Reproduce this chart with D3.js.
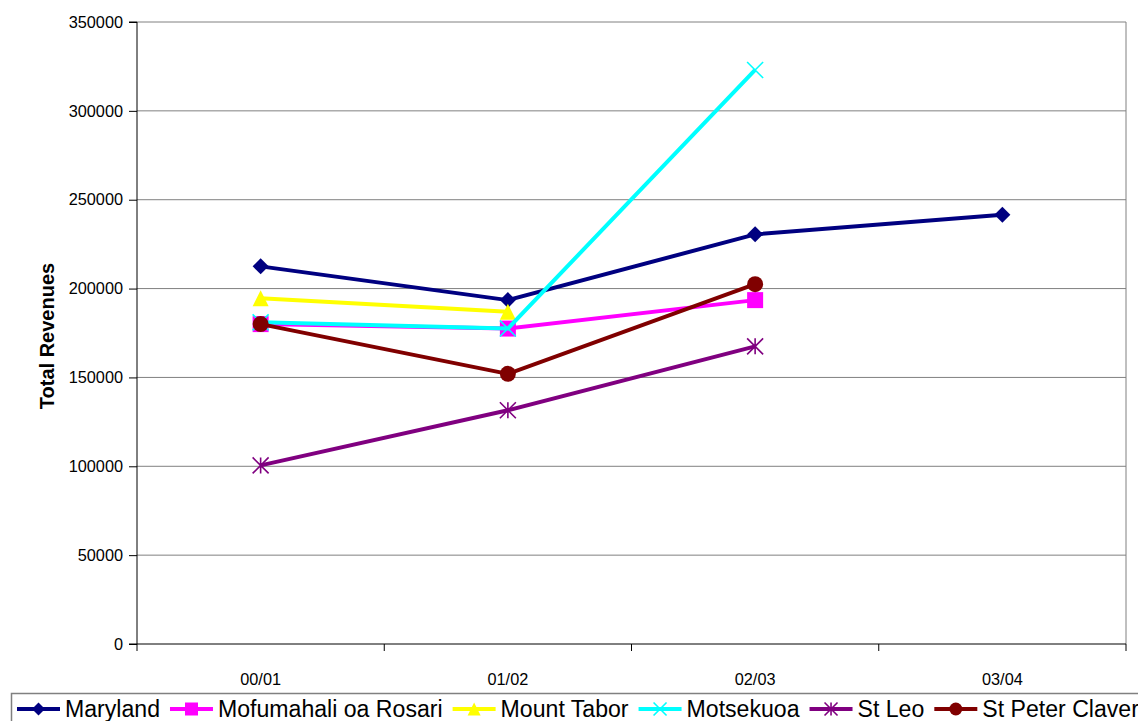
<!DOCTYPE html>
<html>
<head>
<meta charset="utf-8">
<script src="https://cdn.jsdelivr.net/npm/d3@7/dist/d3.min.js"></script>
<style>
  html, body { margin: 0; padding: 0; background: #fff; }
  svg { display: block; font-family: "Liberation Sans", Arial, sans-serif; }
</style>
</head>
<body>
<svg id="chart" width="1138" height="721"></svg>
<script>
// School years on the category axis
const years = ["00/01", "01/02", "02/03", "03/04"];
const yTicks = [0, 50000, 100000, 150000, 200000, 250000, 300000, 350000];

// Total revenues per school (null = no figure for that year)
const maryland      = [212500, 193500, 230500, 241500];
const mofumahali    = [180000, 177500, 193500, null];
const mountTabor    = [194500, 187000, null, null];
const motsekuoa     = [181000, 177500, 323000, null];
const stLeo         = [100500, 131500, 167500, null];
const stPeterClaver = [180000, 152000, 202500, null];

const seriesNames = ["Maryland", "Mofumahali oa Rosari", "Mount Tabor", "Motsekuoa", "St Leo", "St Peter Claver"];
const seriesValues = [maryland, mofumahali, mountTabor, motsekuoa, stLeo, stPeterClaver];
const seriesColors = ["#000080", "#ff00ff", "#ffff00", "#00ffff", "#800080", "#800000"];
const seriesMarkers = ["diamond", "square", "triangle", "x", "star", "circle"];

const svg = d3.select("#chart");
const plot = { left: 137, right: 1126, top: 22, bottom: 644 };

const x = d3.scaleBand().domain(years).range([plot.left, plot.right]).padding(0);
const y = d3.scaleLinear().domain([0, 350000]).range([plot.bottom, plot.top]);

// Horizontal gridlines
svg.append("g")
  .selectAll("line")
  .data(yTicks.filter(d => d > 0))
  .join("line")
  .attr("x1", plot.left).attr("x2", plot.right)
  .attr("y1", d => y(d)).attr("y2", d => y(d))
  .attr("stroke", "#808080").attr("stroke-width", 1);

// Right border of the plot area
svg.append("line")
  .attr("x1", plot.right).attr("x2", plot.right)
  .attr("y1", plot.top).attr("y2", plot.bottom)
  .attr("stroke", "#808080").attr("stroke-width", 1);

// Y axis
const yAxis = svg.append("g")
  .attr("transform", `translate(${plot.left},0)`)
  .call(d3.axisLeft(y).tickValues(yTicks).tickSize(8).tickPadding(6).tickFormat(d3.format("d")));
yAxis.select(".domain").attr("stroke", "#000").attr("d", `M-8,${plot.top}H0V${plot.bottom}H-8`);
yAxis.selectAll(".tick line").attr("stroke", "#000");
yAxis.selectAll("text").attr("font-size", 16.3).attr("fill", "#000")
  .attr("font-family", "'Liberation Sans', Arial, sans-serif");

// X axis: ticks sit between categories
const xAxis = svg.append("g").attr("transform", `translate(0,${plot.bottom})`);
xAxis.append("line")
  .attr("x1", plot.left).attr("x2", plot.right)
  .attr("stroke", "#000").attr("stroke-width", 1);
const bounds = years.map(d => x(d)).concat([plot.right]);
xAxis.selectAll("line.tk")
  .data(bounds)
  .join("line").attr("class", "tk")
  .attr("x1", d => d).attr("x2", d => d)
  .attr("y1", 0).attr("y2", 7)
  .attr("stroke", "#000");
xAxis.selectAll("text")
  .data(years)
  .join("text")
  .attr("x", d => x(d) + x.bandwidth() / 2)
  .attr("y", 41)
  .attr("text-anchor", "middle")
  .attr("font-size", 16.3)
  .text(d => d);

// Y axis title
svg.append("text")
  .attr("transform", `translate(54,${(plot.top + plot.bottom) / 2 + 3}) rotate(-90)`)
  .attr("text-anchor", "middle")
  .attr("font-size", 20)
  .attr("font-weight", "bold")
  .text("Total Revenues");

// Marker path generator
function markerPath(type, s) {
  const h = s / 2;
  switch (type) {
    case "diamond": return `M0,${-h}L${h},0L0,${h}L${-h},0Z`;
    case "square": return `M${-h},${-h}H${h}V${h}H${-h}Z`;
    case "triangle": return `M0,${-h}L${h},${h}H${-h}Z`;
    case "x": return `M${-h},${-h}L${h},${h}M${h},${-h}L${-h},${h}`;
    case "star": return `M${-h},${-h}L${h},${h}M${h},${-h}L${-h},${h}M0,${-h}V${h}`;
    case "circle": return d3.symbol(d3.symbolCircle, Math.PI * h * h)();
  }
}
function drawMarker(g, type, color, s) {
  const stroked = type === "x" || type === "star";
  g.append("path")
    .attr("d", markerPath(type, s))
    .attr("fill", stroked ? "none" : color)
    .attr("stroke", stroked ? color : "none")
    .attr("stroke-width", stroked ? 1.6 : 0);
}

const line = d3.line()
  .defined(d => d.v !== null)
  .x(d => x(d.year) + x.bandwidth() / 2)
  .y(d => y(d.v));

seriesValues.forEach((vals, i) => {
  const pts = years.map((yr, j) => ({ year: yr, v: vals[j] }));
  const g = svg.append("g");
  g.append("path")
    .datum(pts)
    .attr("d", line)
    .attr("fill", "none")
    .attr("stroke", seriesColors[i])
    .attr("stroke-width", 4)
    .attr("stroke-linejoin", "round");
  pts.filter(d => d.v !== null).forEach(d => {
    const m = g.append("g")
      .attr("transform", `translate(${x(d.year) + x.bandwidth() / 2},${y(d.v)})`);
    drawMarker(m, seriesMarkers[i], seriesColors[i], 16);
  });
});

// Legend
const legend = svg.append("g");
legend.append("rect")
  .attr("x", 11.5).attr("y", 693.5)
  .attr("width", 1140).attr("height", 40)
  .attr("fill", "#fff").attr("stroke", "#808080").attr("stroke-width", 1.5);
let lx = 17;
seriesNames.forEach((name, i) => {
  const ly = 709;
  legend.append("line")
    .attr("x1", lx).attr("x2", lx + 43)
    .attr("y1", ly).attr("y2", ly)
    .attr("stroke", seriesColors[i]).attr("stroke-width", 4);
  const m = legend.append("g").attr("transform", `translate(${lx + 21.5},${ly})`);
  drawMarker(m, seriesMarkers[i], seriesColors[i], 13);
  const t = legend.append("text")
    .attr("x", lx + 48).attr("y", 717)
    .attr("font-size", 23.1)
    .text(name);
  lx += 48 + t.node().getComputedTextLength() + 10;
});
</script>
</body>
</html>
